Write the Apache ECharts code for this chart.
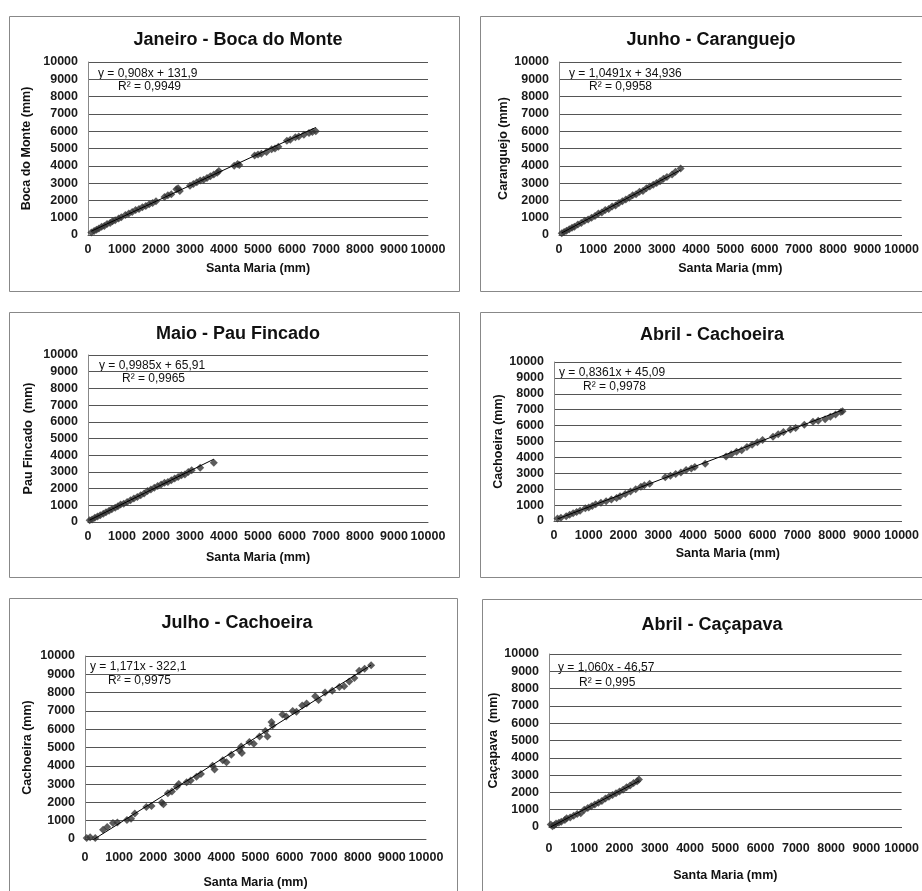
<!DOCTYPE html>
<html>
<head>
<meta charset="utf-8">
<script src="https://cdn.jsdelivr.net/npm/echarts@6/dist/echarts.min.js"></script>
<style>html,body{margin:0;padding:0;background:#fff}#c{width:922px;height:891px}</style>
</head>
<body>
<div id="c"></div>
<script>
// ---- Data (x = Santa Maria mm, y = station mm) ----
const janeiroBocaDoMonte = [[100,150],[180,230],[250,300],[320,380],[400,470],[480,520],[560,640],[650,700],[720,790],[800,850],[900,950],[980,1020],[1100,1150],[1200,1240],[1300,1330],[1400,1450],[1500,1500],[1600,1600],[1700,1680],[1800,1780],[1900,1850],[2000,1950],[2250,2200],[2350,2300],[2450,2350],[2600,2650],[2650,2700],[2700,2550],[3000,2850],[3100,2950],[3200,3050],[3300,3150],[3400,3200],[3500,3300],[3600,3400],[3700,3500],[3800,3600],[3850,3700],[4300,4000],[4400,4100],[4450,4050],[4900,4600],[5000,4650],[5100,4700],[5250,4800],[5400,4950],[5500,5000],[5600,5100],[5850,5450],[5950,5500],[6100,5650],[6200,5700],[6350,5800],[6500,5900],[6600,5950],[6700,6000]];
const junhoCaranguejo = [[80,100],[150,180],[220,250],[300,330],[380,420],[450,480],[550,600],[650,700],[750,820],[850,900],[950,1000],[1050,1100],[1150,1250],[1250,1300],[1350,1450],[1450,1500],[1550,1650],[1650,1700],[1750,1850],[1850,1950],[1950,2050],[2050,2150],[2150,2300],[2250,2350],[2350,2500],[2450,2550],[2550,2700],[2650,2800],[2750,2900],[2850,3000],[2950,3100],[3050,3250],[3150,3350],[3300,3500],[3400,3650],[3550,3850]];
const maioPauFincado = [[50,100],[120,150],[200,250],[280,330],[360,400],[450,500],[530,580],[620,680],[700,760],[800,850],[880,950],[960,1050],[1050,1100],[1150,1200],[1250,1300],[1350,1400],[1450,1500],[1550,1600],[1650,1700],[1750,1850],[1850,1950],[1950,2050],[2050,2150],[2150,2250],[2250,2350],[2350,2400],[2450,2500],[2550,2600],[2650,2700],[2750,2800],[2850,2850],[2950,3000],[3050,3100],[3300,3250],[3700,3550]];
const abrilCachoeira = [[100,150],[200,200],[350,300],[450,400],[550,480],[650,560],[750,650],[900,800],[1000,850],[1100,950],[1200,1050],[1350,1150],[1500,1250],[1650,1350],[1800,1450],[1900,1550],[2050,1700],[2200,1850],[2350,2000],[2500,2150],[2600,2250],[2750,2350],[3200,2750],[3350,2850],[3500,2950],[3650,3050],[3800,3200],[3950,3300],[4050,3400],[4350,3600],[4950,4050],[5100,4200],[5250,4350],[5400,4450],[5550,4650],[5700,4800],[5850,4950],[6000,5100],[6300,5300],[6450,5450],[6600,5600],[6800,5750],[6950,5850],[7200,6050],[7450,6250],[7600,6300],[7800,6400],[7950,6550],[8100,6700],[8250,6850],[8300,6900]];
const julhoCachoeira = [[50,50],[150,100],[300,50],[530,500],[650,650],[820,870],[950,900],[1230,1040],[1350,1100],[1460,1400],[1800,1750],[1950,1800],[2250,2000],[2300,1900],[2430,2500],[2550,2600],[2690,2850],[2750,3000],[2980,3100],[3100,3200],[3270,3400],[3400,3550],[3740,4000],[3800,3800],[4040,4300],[4150,4200],[4290,4600],[4530,4850],[4580,5050],[4600,4700],[4820,5300],[4950,5200],[5120,5600],[5290,5900],[5350,5600],[5470,6400],[5500,6200],[5790,6800],[5900,6700],[6090,7000],[6200,6950],[6370,7300],[6500,7400],[6750,7800],[6850,7600],[7040,8000],[7250,8100],[7460,8300],[7600,8350],[7750,8600],[7900,8800],[8040,9200],[8200,9300],[8390,9500]];
const abrilCacapava = [[50,150],[100,50],[150,100],[200,200],[280,250],[350,300],[450,400],[500,500],[600,550],[700,650],[800,750],[900,800],[1000,1000],[1100,1100],[1200,1200],[1300,1300],[1400,1400],[1500,1500],[1600,1650],[1700,1750],[1800,1850],[1900,1950],[2000,2050],[2100,2150],[2200,2300],[2300,2400],[2400,2550],[2500,2650],[2550,2750]];

const panelTitles = ['Janeiro - Boca do Monte','Junho - Caranguejo','Maio - Pau Fincado','Abril - Cachoeira','Julho - Cachoeira','Abril - Caçapava'];
const yAxisNames = ['Boca do Monte (mm)','Caranguejo (mm)','Pau Fincado  (mm)','Cachoeira (mm)','Cachoeira (mm)','Caçapava  (mm)'];
const xAxisName = 'Santa Maria (mm)';
const slopes = [0.908, 1.0491, 0.9985, 0.8361, 1.171, 1.060];
const intercepts = [131.9, 34.936, 65.91, 45.09, -322.1, -46.57];
const equationLabels = ['y = 0,908x + 131,9','y = 1,0491x + 34,936','y = 0,9985x + 65,91','y = 0,8361x + 45,09','y = 1,171x - 322,1','y = 1,060x - 46,57'];
const r2Labels = ['R² = 0,9949','R² = 0,9958','R² = 0,9965','R² = 0,9978','R² = 0,9975','R² = 0,995'];
const datasets = [janeiroBocaDoMonte, junhoCaranguejo, maioPauFincado, abrilCachoeira, julhoCachoeira, abrilCacapava];

// ---- Layout ----
const FONT = '"Liberation Sans", Arial, sans-serif';
const grids = [
  {left:88, top:62, width:340, height:173},
  {left:559, top:62, width:343, height:173},
  {left:88, top:355, width:340, height:167},
  {left:554, top:362, width:353, height:159},
  {left:85, top:656, width:341, height:183},
  {left:549, top:654, width:356, height:173}
];
const borders = [
  [9,16,450,275],[480,16,460,275],
  [9,312,450,265],[480,312,460,265],
  [9,598,448,310],[482,599,460,310]
];
const titlePos = [[233,26],[706,26],[233,320],[707,321],[232,609],[707,611]];
const xNameGap = [27,27,29,26,37,42];
const xLabelMargin = [8,8,8,8,12,15];
const yNameGap = [55,48,53,49,51,47];
const eqPos = [[98,74,118,87],[569,74,589,87],[99,366,122,379],[559,373,583,387],[90,667,108,681],[558,668,579,683]];

const plain = v => String(v);
const option = {
  backgroundColor:'#fff',
  animation:false,
  title: panelTitles.map((t,i)=>({text:t,left:titlePos[i][0],top:titlePos[i][1],textAlign:'center',
    textStyle:{fontFamily:FONT,fontSize:18,fontWeight:'bold',color:'#111'}})),
  grid: grids.map(g=>Object.assign({containLabel:false},g)),
  xAxis: grids.map((g,i)=>({type:'value',gridIndex:i,min:0,max:10000,interval:1000,
    name:xAxisName,nameLocation:'middle',nameGap:xNameGap[i],
    nameTextStyle:{fontFamily:FONT,fontSize:12.5,fontWeight:'bold',color:'#111'},
    axisLine:{show:true,onZero:false,lineStyle:{color:'#555'}},axisTick:{show:false},
    axisLabel:{fontFamily:FONT,fontSize:12.5,fontWeight:'bold',color:'#1a1a1a',margin:xLabelMargin[i],formatter:plain,
      interval:0,hideOverlap:false,showMaxLabel:true,showMinLabel:true},
    splitLine:{show:false}})),
  yAxis: grids.map((g,i)=>({type:'value',gridIndex:i,min:0,max:10000,interval:1000,
    name:yAxisNames[i],nameLocation:'middle',nameGap:yNameGap[i],
    nameTextStyle:{fontFamily:FONT,fontSize:12.5,fontWeight:'bold',color:'#111'},
    axisLine:{show:true,lineStyle:{color:'#888'}},axisTick:{show:false},
    axisLabel:{fontFamily:FONT,fontSize:12.5,fontWeight:'bold',color:'#1a1a1a',margin:10,formatter:plain,interval:0,hideOverlap:false},
    splitLine:{show:true,lineStyle:{color:'#555',width:1}}})),
  series: [],
  graphic: []
};

datasets.forEach((d,i)=>{
  option.series.push({type:'scatter',xAxisIndex:i,yAxisIndex:i,data:d,symbol:'diamond',symbolSize:8,
    itemStyle:{color:'#333'}});
  const xs = d.map(p=>p[0]);
  const x0 = Math.min(...xs), x1 = Math.max(...xs);
  option.series.push({type:'line',xAxisIndex:i,yAxisIndex:i,symbol:'none',clip:true,
    data:[[x0,slopes[i]*x0+intercepts[i]],[x1,slopes[i]*x1+intercepts[i]]],
    lineStyle:{color:'#000',width:1},z:3});
});

borders.forEach(b=>option.graphic.push({type:'rect',shape:{x:b[0]+0.5,y:b[1]+0.5,width:b[2],height:b[3]},
  style:{fill:null,stroke:'#888',lineWidth:1},silent:true,z:-1}));
eqPos.forEach((p,i)=>{
  option.graphic.push({type:'text',x:p[0],y:p[1],style:{text:equationLabels[i],font:'12px '+FONT,fill:'#111',textVerticalAlign:'middle'}});
  option.graphic.push({type:'text',x:p[2],y:p[3],style:{text:r2Labels[i],font:'12px '+FONT,fill:'#111',textVerticalAlign:'middle'}});
});

const chart = echarts.init(document.getElementById('c'),null,{renderer:'canvas'});
chart.setOption(option);
</script>
</body>
</html>
